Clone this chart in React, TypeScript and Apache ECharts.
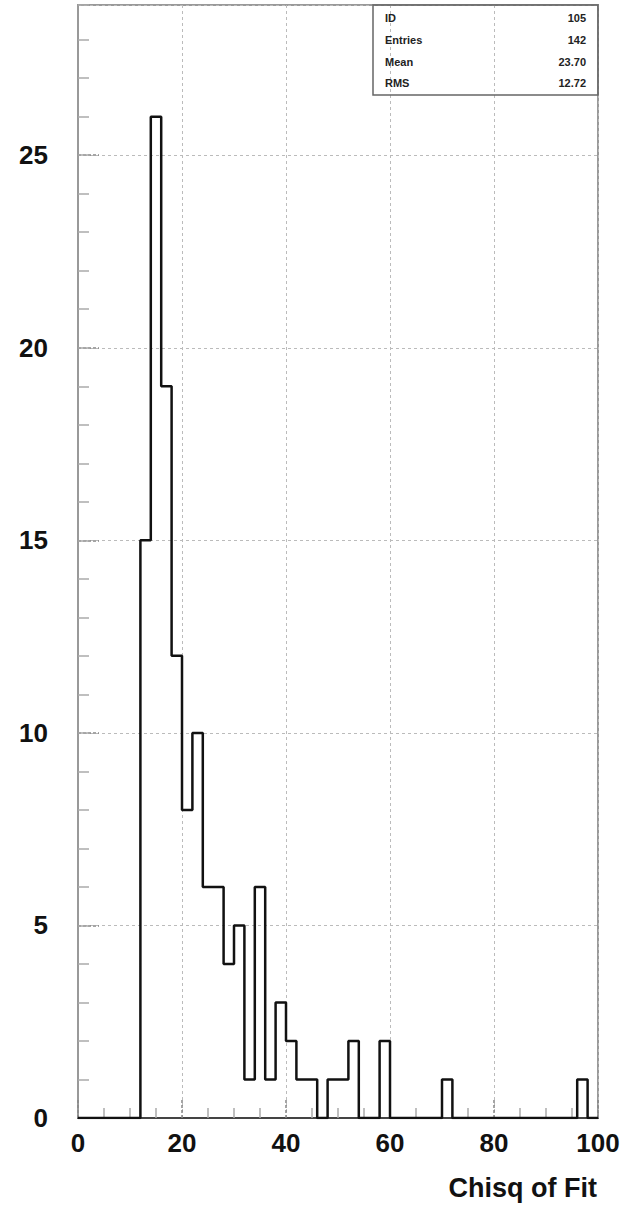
import React, { useEffect, useRef } from "react";
import * as echarts from "echarts";

// Histogram: 50 bins of width 2 from 0 to 100
const BIN_START = 0;
const BIN_WIDTH = 2;
const counts = [
  0, 0, 0, 0, 0, 0, 15, 26, 19, 12,
  8, 10, 6, 6, 4, 5, 1, 6, 1, 3,
  2, 1, 1, 0, 1, 1, 2, 0, 0, 2,
  0, 0, 0, 0, 0, 1, 0, 0, 0, 0,
  0, 0, 0, 0, 0, 0, 0, 0, 1, 0,
];

const xTicks = [0, 20, 40, 60, 80, 100];
const yTicks = [0, 5, 10, 15, 20, 25];
const xTitle = "Chisq of Fit";

const statLabels = ["ID", "Entries", "Mean", "RMS"];
const statValues = ["105", "142", "23.70", "12.72"];

const FONT = '"Liberation Sans", Arial, Helvetica, sans-serif';

export default function App() {
  const ref = useRef<HTMLDivElement>(null);

  useEffect(() => {
    document.body.style.margin = "0";
    if (!ref.current) return;
    const chart = echarts.init(ref.current, null, { renderer: "svg" });

    const pts: [number, number][] = counts.map((c, i) => [BIN_START + i * BIN_WIDTH, c]);
    pts.push([BIN_START + counts.length * BIN_WIDTH, 0]);

    const xMin = xTicks[0];
    const xMax = xTicks[xTicks.length - 1];
    const xInt = xTicks[1] - xTicks[0];
    const yInt = yTicks[1] - yTicks[0];
    const yMax = 28.9;

    const statRowsY = [18, 40, 62, 83];
    const graphic: any[] = [
      {
        type: "rect",
        shape: { x: 373, y: 5, width: 225, height: 90 },
        style: { fill: "none", stroke: "#666", lineWidth: 1.5 },
        z: 10,
      },
      {
        type: "text",
        x: 597,
        y: 1188,
        style: {
          text: xTitle,
          font: `bold 27px ${FONT}`,
          textAlign: "right",
          textVerticalAlign: "middle",
          fill: "#111",
        },
      },
    ];
    statLabels.forEach((l, i) => {
      graphic.push({
        type: "text",
        x: 385,
        y: statRowsY[i],
        style: {
          text: l,
          font: `bold 11px ${FONT}`,
          textAlign: "left",
          textVerticalAlign: "middle",
          fill: "#222",
        },
        z: 10,
      });
      graphic.push({
        type: "text",
        x: 586,
        y: statRowsY[i],
        style: {
          text: statValues[i],
          font: `bold 11px ${FONT}`,
          textAlign: "right",
          textVerticalAlign: "middle",
          fill: "#222",
        },
        z: 10,
      });
    });

    chart.setOption({
      animation: false,
      grid: {
        left: 78,
        right: 31,
        top: 5,
        bottom: 97,
        show: true,
        borderColor: "#999",
        borderWidth: 2,
      },
      xAxis: {
        type: "value",
        min: xMin,
        max: xMax,
        interval: xInt,
        axisLine: { show: true, lineStyle: { color: "#444", width: 2 } },
        axisTick: { show: true, inside: true, length: 20, lineStyle: { color: "#888", width: 1.5, type: [3, 2] } },
        minorTick: { show: true, splitNumber: 4, length: 10, lineStyle: { color: "#aaa", width: 1.5 } },
        splitLine: { show: true, lineStyle: { color: "#bbb", width: 1, type: [3, 3] } },
        axisLabel: {
          show: true,
          margin: 12,
          fontFamily: FONT,
          fontWeight: "bold",
          fontSize: 26,
          color: "#111",
        },
      },
      yAxis: [
        {
          type: "value",
          min: 0,
          max: yMax,
          interval: yInt,
          axisLine: { show: true, lineStyle: { color: "#999", width: 2 } },
          axisTick: { show: true, inside: true, length: 21, lineStyle: { color: "#888", width: 1.5, type: [3, 2] } },
          splitLine: { show: true, lineStyle: { color: "#bbb", width: 1, type: [3, 3] } },
          axisLabel: {
            show: true,
            margin: 30,
            showMaxLabel: false,
            fontFamily: FONT,
            fontWeight: "bold",
            fontSize: 26,
            color: "#111",
          },
        },
        {
          type: "value",
          min: 0,
          max: yMax,
          interval: 1,
          position: "left",
          offset: 0,
          axisLine: { show: false },
          axisTick: { show: true, inside: true, length: 11, lineStyle: { color: "#aaa", width: 1.5 } },
          splitLine: { show: false },
          axisLabel: { show: false },
        },
      ],
      series: [
        {
          type: "line",
          step: "end",
          yAxisIndex: 0,
          data: pts,
          symbol: "none",
          lineStyle: { color: "#111", width: 2.5 },
          z: 5,
        },
      ],
      graphic,
    });

    return () => chart.dispose();
  }, []);

  return <div ref={ref} style={{ width: 629, height: 1215 }} />;
}
